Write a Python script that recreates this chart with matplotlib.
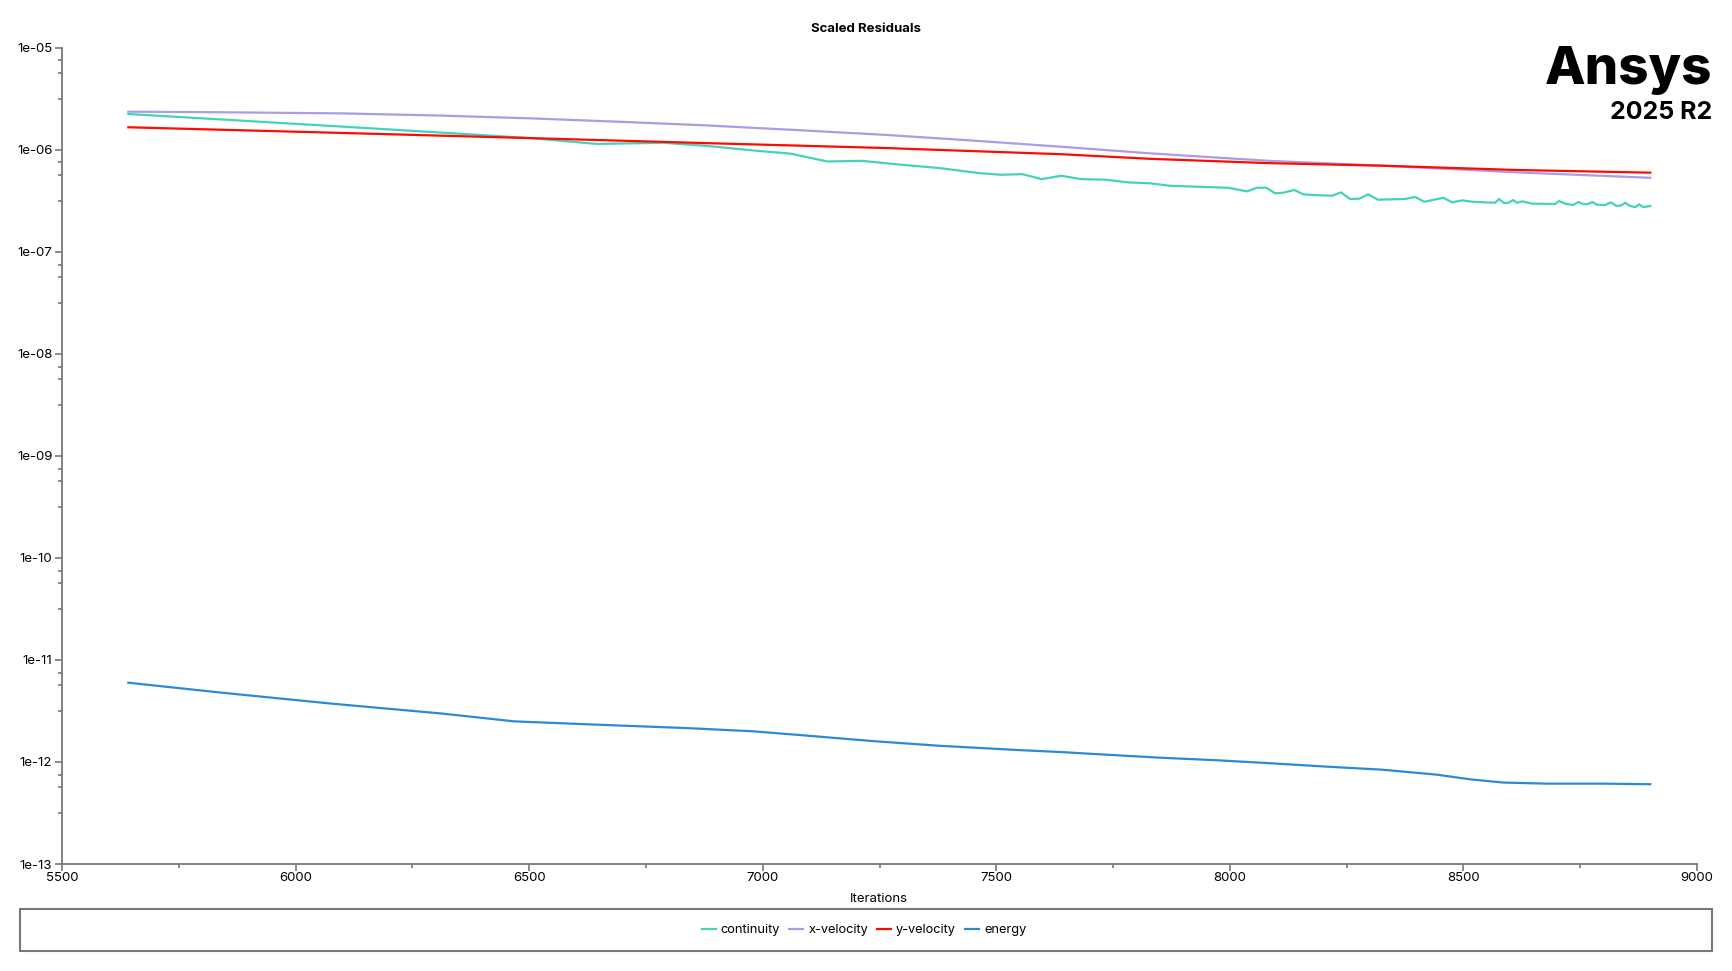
import matplotlib
matplotlib.use("Agg")
import matplotlib.pyplot as plt
from matplotlib.patches import Rectangle
from matplotlib.ticker import FixedLocator, FuncFormatter
import numpy as np

plt.rcParams['font.family'] = ['Inter', 'DejaVu Sans']

# Residual histories
cont_it = [5642, 5841, 6077, 6314, 6503, 6645, 6787, 6882, 6977, 7060,
           7138, 7213, 7296, 7379, 7462, 7509, 7556, 7597, 7639, 7682,
           7734, 7781, 7829, 7872, 7996, 8037, 8058, 8078, 8097, 8114,
           8138, 8157, 8178, 8219, 8238, 8257, 8277, 8296, 8317, 8375,
           8397, 8416, 8457, 8476, 8497, 8519, 8568, 8576, 8587, 8596,
           8606, 8615, 8626, 8647, 8696, 8705, 8718, 8735, 8746, 8756,
           8765, 8776, 8786, 8803, 8816, 8827, 8838, 8846, 8857, 8868,
           8876, 8885, 8900]
cont_val = [2.24e-6, 1.98e-6, 1.71e-6, 1.47e-6, 1.30e-6, 1.14e-6, 1.17e-6, 1.09e-6, 9.86e-7, 9.15e-7,
            7.67e-7, 7.78e-7, 7.13e-7, 6.61e-7, 5.91e-7, 5.69e-7, 5.76e-7, 5.15e-7, 5.56e-7, 5.15e-7,
            5.09e-7, 4.79e-7, 4.69e-7, 4.43e-7, 4.24e-7, 3.91e-7, 4.24e-7, 4.24e-7, 3.74e-7, 3.79e-7,
            4.03e-7, 3.66e-7, 3.60e-7, 3.54e-7, 3.82e-7, 3.29e-7, 3.31e-7, 3.66e-7, 3.24e-7, 3.29e-7,
            3.44e-7, 3.09e-7, 3.38e-7, 3.05e-7, 3.19e-7, 3.09e-7, 3.02e-7, 3.29e-7, 3.00e-7, 3.02e-7,
            3.21e-7, 3.02e-7, 3.12e-7, 2.96e-7, 2.94e-7, 3.14e-7, 2.96e-7, 2.87e-7, 3.07e-7, 2.94e-7,
            2.92e-7, 3.07e-7, 2.89e-7, 2.87e-7, 3.05e-7, 2.81e-7, 2.85e-7, 3.02e-7, 2.81e-7, 2.74e-7,
            2.92e-7, 2.74e-7, 2.81e-7]

xvel_it = [5642, 5841, 6101, 6314, 6503, 6693, 6882, 7071, 7261, 7450,
           7639, 7829, 8080, 8328, 8615, 8900]
xvel_val = [2.36e-6, 2.33e-6, 2.27e-6, 2.16e-6, 2.03e-6, 1.88e-6, 1.73e-6, 1.56e-6, 1.40e-6, 1.23e-6,
            1.07e-6, 9.22e-7, 7.80e-7, 6.97e-7, 6.00e-7, 5.31e-7]

yvel_it = [5642, 6077, 6503, 6882, 7261, 7639, 7829, 8080, 8328, 8615, 8900]
yvel_val = [1.66e-6, 1.47e-6, 1.30e-6, 1.16e-6, 1.04e-6, 9.04e-7, 8.15e-7, 7.40e-7, 6.97e-7, 6.33e-7, 5.96e-7]

energy_it = [5642, 5841, 6077, 6314, 6468, 6645, 6835, 6977, 7071, 7237,
             7379, 7545, 7639, 7734, 7852, 7971, 8089, 8207, 8326, 8444,
             8515, 8586, 8681, 8799, 8900]
energy_val = [5.98e-12, 4.78e-12, 3.73e-12, 2.98e-12, 2.50e-12, 2.32e-12, 2.15e-12, 2.00e-12, 1.85e-12, 1.60e-12,
              1.44e-12, 1.31e-12, 1.25e-12, 1.18e-12, 1.10e-12, 1.04e-12, 9.7e-13, 9.0e-13, 8.4e-13, 7.5e-13,
              6.75e-13, 6.28e-13, 6.13e-13, 6.13e-13, 6.05e-13]

series = [
    ("continuity", cont_it, cont_val, "#45d3b8"),
    ("x-velocity", xvel_it, xvel_val, "#a99ee3"),
    ("y-velocity", yvel_it, yvel_val, "#ff0a00"),
    ("energy", energy_it, energy_val, "#2b8ad6"),
]

W, H = 1732, 971
fig = plt.figure(figsize=(W / 100, H / 100), dpi=100)
ax = fig.add_axes([62 / W, 1 - 864 / H, (1697 - 62) / W, (864 - 47.7) / H])

for name, it, val, col in series:
    ax.plot(it, val, color=col, lw=1.6, label=name)

ax.set_yscale("log")
ax.set_ylim(1e-13, 1e-5)
ax.set_xlim(5500, 9000)

grey = "#787878"
for s in ["top", "right"]:
    ax.spines[s].set_visible(False)
for s in ["left", "bottom"]:
    ax.spines[s].set_color(grey)
    ax.spines[s].set_linewidth(1.3)

exps = np.arange(-13, -4)
ax.yaxis.set_major_locator(FixedLocator(10.0 ** exps))
ax.yaxis.set_major_formatter(FuncFormatter(lambda v, p: "1e-%02d" % round(-np.log10(v))))
minor = [10.0 ** (e - f) for e in exps[1:] for f in (0.125, 0.25, 0.5)]
ax.yaxis.set_minor_locator(FixedLocator(minor))
ax.yaxis.set_minor_formatter(FuncFormatter(lambda v, p: ""))

ax.set_xticks(np.arange(5500, 9001, 500))
ax.set_xticks(np.arange(5750, 9000, 500), minor=True)

ax.tick_params(which="major", length=5, width=1.2, color=grey, labelsize=9.5, pad=2)
ax.tick_params(which="minor", length=3, width=1.2, color=grey)
ax.tick_params(axis="x", pad=0.5)

fig.text(866 / W, 1 - 29 / H, "Scaled Residuals", ha="center", va="center",
         fontsize=9.5, fontweight="bold")
fig.text(879 / W, 1 - 898.5 / H, "Iterations", ha="center", va="center", fontsize=9.5)

# logo
fig.text(1712 / W, 1 - 84 / H, "Ansys", ha="right", va="baseline",
         fontsize=38, fontweight="heavy")
fig.text(1712 / W, 1 - 119 / H, "2025 R2", ha="right", va="baseline",
         fontsize=18, fontweight="bold")

# legend box along the bottom
fig.patches.append(Rectangle((20 / W, 1 - 951 / H), 1692 / W, 42 / H,
                             transform=fig.transFigure, fill=False,
                             edgecolor=grey, lw=1.5))
fig.legend(loc="center", bbox_to_anchor=(864 / W, 1 - 930 / H), ncol=4,
           frameon=False, fontsize=9.2, handlelength=1.1, handletextpad=0.4,
           columnspacing=0.7)

fig.savefig("out.png", dpi=100)
